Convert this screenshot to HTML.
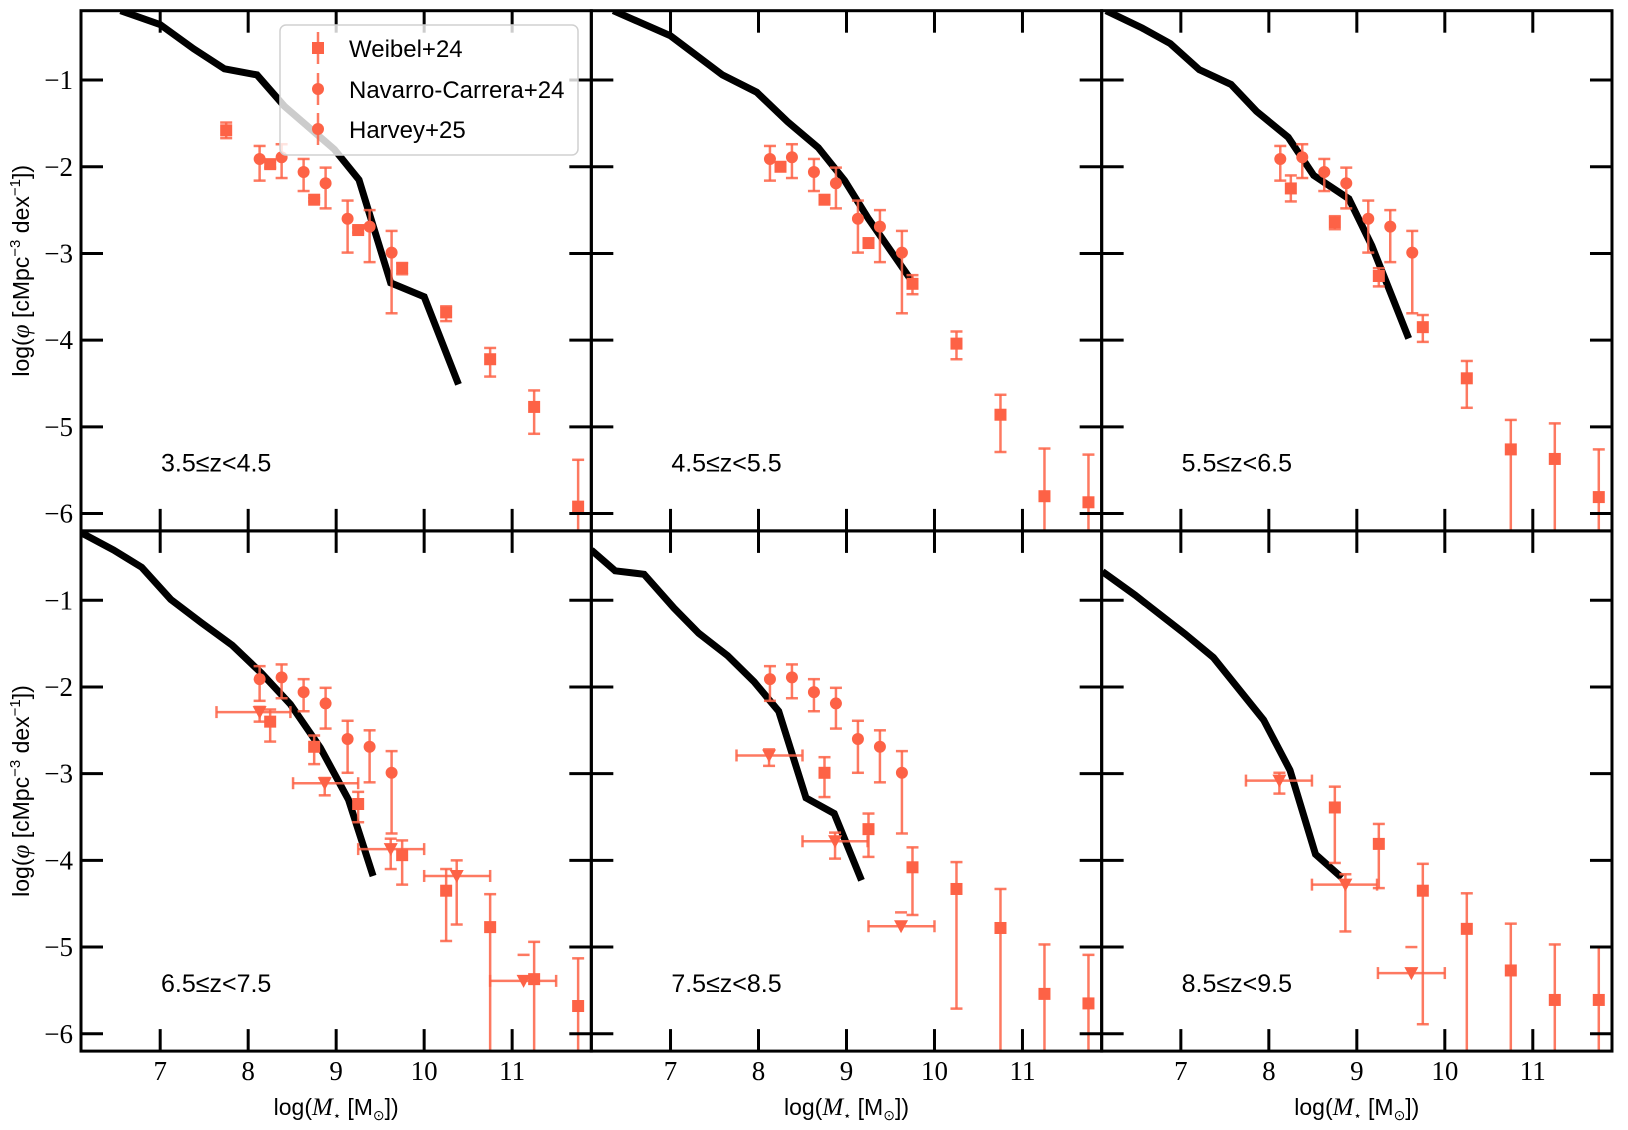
<!DOCTYPE html>
<html><head><meta charset="utf-8"><style>
body{margin:0;background:#fff}
svg{display:block}
</style></head><body>
<svg id="chart" xmlns="http://www.w3.org/2000/svg" width="1628" height="1130" viewBox="0 0 1628 1130"></svg>
<script>
// ---- data ----
const xTicks = [7, 8, 9, 10, 11];
const yTicks = [-1, -2, -3, -4, -5, -6];
const panelLabels = ["3.5\u2264z<4.5", "4.5\u2264z<5.5", "5.5\u2264z<6.5", "6.5\u2264z<7.5", "7.5\u2264z<8.5", "8.5\u2264z<9.5"];

// Navarro-Carrera / Harvey circles (shown in panels 1-5)
const circX = [8.13, 8.38, 8.63, 8.88, 9.13, 9.38, 9.63];
const circY = [-1.91, -1.89, -2.06, -2.19, -2.60, -2.69, -2.99];
const circHi = [-1.76, -1.74, -1.91, -2.01, -2.39, -2.50, -2.74];
const circLo = [-2.16, -2.13, -2.28, -2.48, -2.99, -3.10, -3.69];

// model lines
const line1X = [6.55, 7.0, 7.38, 7.73, 8.1, 8.41, 8.74, 8.98, 9.26, 9.62, 10.0, 10.39];
const line1Y = [-0.2, -0.36, -0.64, -0.87, -0.94, -1.3, -1.59, -1.8, -2.15, -3.34, -3.5, -4.51];
const line2X = [6.35, 7.0, 7.59, 7.98, 8.33, 8.68, 8.98, 9.25, 9.73];
const line2Y = [-0.2, -0.49, -0.94, -1.14, -1.48, -1.78, -2.16, -2.6, -3.3];
const line3X = [6.15, 6.56, 6.88, 7.21, 7.57, 7.86, 8.22, 8.51, 8.91, 9.17, 9.59];
const line3Y = [-0.2, -0.4, -0.58, -0.88, -1.05, -1.36, -1.66, -2.1, -2.37, -2.91, -3.98];
const line4X = [6.1, 6.47, 6.79, 7.12, 7.47, 7.82, 8.15, 8.48, 8.82, 9.14, 9.42];
const line4Y = [-0.22, -0.42, -0.62, -0.99, -1.26, -1.52, -1.84, -2.2, -2.7, -3.3, -4.18];
const line5X = [6.1, 6.37, 6.70, 7.04, 7.32, 7.65, 7.95, 8.23, 8.54, 8.86, 9.17];
const line5Y = [-0.42, -0.66, -0.70, -1.09, -1.38, -1.64, -1.94, -2.28, -3.28, -3.46, -4.23];
const line6X = [6.11, 6.48, 7.05, 7.37, 7.94, 8.24, 8.53, 8.83];
const line6Y = [-0.67, -0.94, -1.39, -1.66, -2.38, -2.96, -3.93, -4.20];

// Weibel+24 squares (lo = -7 means unbounded)
const sq1X = [7.75, 8.25, 8.75, 9.25, 9.75, 10.25, 10.75, 11.25, 11.75];
const sq1Y = [-1.58, -1.97, -2.38, -2.73, -3.17, -3.68, -4.22, -4.77, -5.92];
const sq1Hi = [-1.49, -1.94, -2.36, -2.70, -3.11, -3.61, -4.09, -4.58, -5.38];
const sq1Lo = [-1.67, -2.01, -2.40, -2.76, -3.24, -3.78, -4.42, -5.08, -7];
const sq2X = [8.25, 8.75, 9.25, 9.75, 10.25, 10.75, 11.25, 11.75];
const sq2Y = [-2.0, -2.38, -2.88, -3.35, -4.04, -4.86, -5.8, -5.87];
const sq2Hi = [-1.95, -2.35, -2.83, -3.25, -3.90, -4.63, -5.25, -5.32];
const sq2Lo = [-2.05, -2.41, -2.93, -3.47, -4.22, -5.29, -7, -7];
const sq3X = [8.25, 8.75, 9.25, 9.75, 10.25, 10.75, 11.25, 11.75];
const sq3Y = [-2.25, -2.64, -3.26, -3.85, -4.44, -5.26, -5.37, -5.81];
const sq3Hi = [-2.10, -2.57, -3.17, -3.71, -4.24, -4.92, -4.96, -5.26];
const sq3Lo = [-2.40, -2.72, -3.38, -4.02, -4.78, -7, -7, -7];
const sq4X = [8.25, 8.75, 9.25, 9.75, 10.25, 10.75, 11.25, 11.75];
const sq4Y = [-2.40, -2.69, -3.35, -3.94, -4.35, -4.77, -5.37, -5.68];
const sq4Hi = [-2.26, -2.56, -3.21, -3.77, -4.10, -4.39, -4.94, -5.13];
const sq4Lo = [-2.63, -2.89, -3.56, -4.28, -4.93, -7, -7, -7];
const sq5X = [8.75, 9.25, 9.75, 10.25, 10.75, 11.25, 11.75];
const sq5Y = [-2.99, -3.64, -4.08, -4.33, -4.78, -5.54, -5.65];
const sq5Hi = [-2.81, -3.46, -3.85, -4.02, -4.33, -4.97, -5.09];
const sq5Lo = [-3.27, -3.96, -4.63, -5.71, -7, -7, -7];
const sq6X = [8.75, 9.25, 9.75, 10.25, 10.75, 11.25, 11.75];
const sq6Y = [-3.39, -3.81, -4.35, -4.79, -5.27, -5.61, -5.61];
const sq6Hi = [-3.15, -3.58, -4.04, -4.38, -4.73, -4.97, -5.0];
const sq6Lo = [-4.03, -4.32, -5.89, -7, -7, -7, -7];

// Harvey+25 triangles (panels 4-6)
const tri4X = [8.13, 8.87, 9.62, 10.37, 11.13];
const tri4Y = [-2.29, -3.11, -3.87, -4.18, -5.39];
const tri4Xlo = [7.64, 8.51, 9.25, 10.0, 10.75];
const tri4Xhi = [8.48, 9.25, 10.0, 10.75, 11.5];
const tri4Hi = [-2.23, -3.05, -3.75, -4.0, -5.09];
const tri4Lo = [-2.40, -3.25, -4.10, -4.74, -5.39];
const tri5X = [8.12, 8.87, 9.62];
const tri5Y = [-2.79, -3.78, -4.76];
const tri5Xlo = [7.75, 8.5, 9.25];
const tri5Xhi = [8.5, 9.24, 10.0];
const tri5Hi = [-2.72, -3.68, -4.60];
const tri5Lo = [-2.91, -3.98, -4.76];
const tri6X = [8.12, 8.87, 9.62];
const tri6Y = [-3.08, -4.28, -5.30];
const tri6Xlo = [7.74, 8.49, 9.24];
const tri6Xhi = [8.49, 9.23, 10.0];
const tri6Hi = [-2.99, -4.16, -5.0];
const tri6Lo = [-3.23, -4.82, -5.30];

const lines = [[line1X,line1Y],[line2X,line2Y],[line3X,line3Y],[line4X,line4Y],[line5X,line5Y],[line6X,line6Y]];
const squares = [[sq1X,sq1Y,sq1Hi,sq1Lo],[sq2X,sq2Y,sq2Hi,sq2Lo],[sq3X,sq3Y,sq3Hi,sq3Lo],[sq4X,sq4Y,sq4Hi,sq4Lo],[sq5X,sq5Y,sq5Hi,sq5Lo],[sq6X,sq6Y,sq6Hi,sq6Lo]];
const tris = [null,null,null,[tri4X,tri4Y,tri4Xlo,tri4Xhi,tri4Hi,tri4Lo],[tri5X,tri5Y,tri5Xlo,tri5Xhi,tri5Hi,tri5Lo],[tri6X,tri6Y,tri6Xlo,tri6Xhi,tri6Hi,tri6Lo]];

// ---- layout ----
const NS = "http://www.w3.org/2000/svg";
const svg = document.getElementById("chart");
const L = 81, T = 10.7, PW = 510.33, PH = 520.2;
const XMIN = 6.1, XMAX = 11.9, YMIN = -6.2, YMAX = -0.2;
const RED = "#fd6246";
function mk(tag, attrs, parent) {
  const e = document.createElementNS(NS, tag);
  for (const k in attrs) e.setAttribute(k, attrs[k]);
  (parent || svg).appendChild(e);
  return e;
}
function px(p, v) { return L + (p % 3) * PW + (v - XMIN) / (XMAX - XMIN) * PW; }
function py(p, v) { const top = T + Math.floor(p / 3) * PH; const c = Math.max(YMIN - 0.1, Math.min(YMAX + 0.1, v)); return top + (YMAX - c) / (YMAX - YMIN) * PH; }

const defs = mk("defs", {});
for (let p = 0; p < 6; p++) {
  const cp = mk("clipPath", {id: "clip" + p}, defs);
  mk("rect", {x: L + (p % 3) * PW, y: T + Math.floor(p / 3) * PH, width: PW, height: PH}, cp);
}

function errV(g, x, y1, y2) {
  const l = mk("line", {x1: x, x2: x, y1: y1, y2: y2, stroke: RED, "stroke-width": 2.5, opacity: 0.85}, g);
  
  
}
function cap(g, x, y, w) {
  const l = mk("line", {x1: x - w, x2: x + w, y1: y, y2: y, stroke: RED, "stroke-width": 2.5, opacity: 0.85}, g);
  
  
}

for (let p = 0; p < 6; p++) {
  const g = mk("g", {"clip-path": "url(#clip" + p + ")"});
  
  
  const [lx, ly] = lines[p];
  const pts = lx.map((v, i) => px(p, v).toFixed(1) + "," + py(p, ly[i]).toFixed(1)).join(" ");
  const pl = mk("polyline", {points: pts, fill: "none", stroke: "#000", "stroke-width": 7, "stroke-linejoin": "miter"}, g);
  
  
  if (p < 5) {
    for (let i = 0; i < circX.length; i++) {
      const x = px(p, circX[i]);
      errV(g, x, py(p, circHi[i]), py(p, circLo[i]));
      cap(g, x, py(p, circHi[i]), 6); cap(g, x, py(p, circLo[i]), 6);
      const c = mk("circle", {cx: x, cy: py(p, circY[i]), r: 6, fill: RED}, g);
      
      
    }
  }
  const [sx, sy, sh, sl] = squares[p];
  for (let i = 0; i < sx.length; i++) {
    const x = px(p, sx[i]);
    errV(g, x, py(p, sh[i]), py(p, sl[i]));
    cap(g, x, py(p, sh[i]), 6);
    if (sl[i] > -6.5) cap(g, x, py(p, sl[i]), 6);
    const r = mk("rect", {x: x - 6, y: py(p, sy[i]) - 6, width: 12, height: 12, fill: RED}, g);
    
    
  }
  if (tris[p]) {
    const [tx, ty, txl, txh, th, tl] = tris[p];
    for (let i = 0; i < tx.length; i++) {
      const x = px(p, tx[i]), y = py(p, ty[i]);
      const hl = mk("line", {x1: px(p, txl[i]), x2: px(p, txh[i]), y1: y, y2: y, stroke: RED, "stroke-width": 2.5, opacity: 0.85}, g);
      
      
      const hx1 = px(p, txl[i]), hx2 = px(p, txh[i]);
      mk("line", {x1: hx1, x2: hx1, y1: y - 6, y2: y + 6, stroke: RED, "stroke-width": 2.5, opacity: 0.85}, g);
      mk("line", {x1: hx2, x2: hx2, y1: y - 6, y2: y + 6, stroke: RED, "stroke-width": 2.5, opacity: 0.85}, g);
      const yh = py(p, th[i]), yl = py(p, tl[i]);
      if (tl[i] < ty[i] - 0.01) { errV(g, x, yh, yl); cap(g, x, yl, 6); cap(g, x, yh, 6); }
      else { cap(g, x, yh, 6); }
      const t = mk("polygon", {points: (x - 7) + "," + (y - 6) + " " + (x + 7) + "," + (y - 6) + " " + x + "," + (y + 7), fill: RED}, g);
      
      
    }
  }
  const lb = mk("text", {x: px(p, 6.1) + 80, y: T + Math.floor(p / 3) * PH + 461, "font-family": "Liberation Sans, sans-serif", "font-size": 25, fill: "#000"});
  lb.textContent = panelLabels[p];
  
  
}

for (let p = 0; p < 6; p++) {
  const x0 = L + (p % 3) * PW, y0 = T + Math.floor(p / 3) * PH;
  const ax = mk("g", {});
  
  
  mk("rect", {x: x0, y: y0, width: PW, height: PH, fill: "none", stroke: "#000", "stroke-width": 3}, ax);
  for (const v of xTicks) {
    const x = px(p, v);
    mk("line", {x1: x, x2: x, y1: y0 + PH, y2: y0 + PH - 22, stroke: "#000", "stroke-width": 3}, ax);
    mk("line", {x1: x, x2: x, y1: y0, y2: y0 + 22, stroke: "#000", "stroke-width": 3}, ax);
    if (p >= 3) {
      const t = mk("text", {x: x, y: 1080, "text-anchor": "middle", "font-family": "Liberation Serif, serif", "font-size": 27, fill: "#000"});
      t.textContent = v;
      
      
    }
  }
  for (const v of yTicks) {
    const y = py(p, v);
    mk("line", {x1: x0, x2: x0 + 22, y1: y, y2: y, stroke: "#000", "stroke-width": 3}, ax);
    mk("line", {x1: x0 + PW, x2: x0 + PW - 22, y1: y, y2: y, stroke: "#000", "stroke-width": 3}, ax);
    if (p % 3 === 0) {
      const t = mk("text", {x: 73, y: y + 9, "text-anchor": "end", "font-family": "Liberation Serif, serif", "font-size": 27, fill: "#000"});
      t.textContent = "\u2212" + Math.abs(v);
      
      
    }
  }
  if (p >= 3) {
    const t = mk("text", {x: x0 + PW / 2, y: 1115, "text-anchor": "middle", "font-family": "Liberation Sans, sans-serif", "font-size": 23, fill: "#000"});
    t.innerHTML = 'log(<tspan font-family="Liberation Serif, serif" font-style="italic" font-size="25">M</tspan><tspan font-size="13" dy="5">\u22c6</tspan><tspan dy="-5"> [M</tspan><tspan font-size="14" dy="5">\u2299</tspan><tspan dy="-5">])</tspan>';
    
    
  }
  if (p % 3 === 0) {
    const cy = y0 + PH / 2;
    const t = mk("text", {x: 0, y: 0, transform: "translate(29," + cy + ") rotate(-90)", "text-anchor": "middle", "font-family": "Liberation Sans, sans-serif", "font-size": 23, fill: "#000"});
    t.innerHTML = 'log(<tspan font-family="Liberation Serif, serif" font-style="italic" font-size="25">\u03c6</tspan> [cMpc<tspan font-size="15" dy="-9">\u22123</tspan><tspan dy="9"> dex</tspan><tspan font-size="15" dy="-9">\u22121</tspan><tspan dy="9">])</tspan>';
    
    
  }
}

const lg = mk("g", {});


mk("rect", {x: 280, y: 25, width: 298, height: 130, rx: 6, fill: "#fff", "fill-opacity": 0.8, stroke: "#d0d0d0", "stroke-width": 1.5}, lg);
const legNames = ["Weibel+24", "Navarro-Carrera+24", "Harvey+25"];
const legRows = [48, 89, 129];
for (let i = 0; i < 3; i++) {
  const e = mk("g", {}, lg);
  
  
  const y = legRows[i];
  mk("line", {x1: 318, x2: 318, y1: y - 16, y2: y + 16, stroke: RED, "stroke-width": 2.5, opacity: 0.85}, e);
  if (i === 0) mk("rect", {x: 312, y: y - 6, width: 12, height: 12, fill: RED}, e);
  else mk("circle", {cx: 318, cy: y, r: 6, fill: RED}, e);
  const t = mk("text", {x: 349, y: y + 9, "font-family": "Liberation Sans, sans-serif", "font-size": 24, fill: "#000"}, e);
  t.textContent = legNames[i];
}
</script>
</body></html>
